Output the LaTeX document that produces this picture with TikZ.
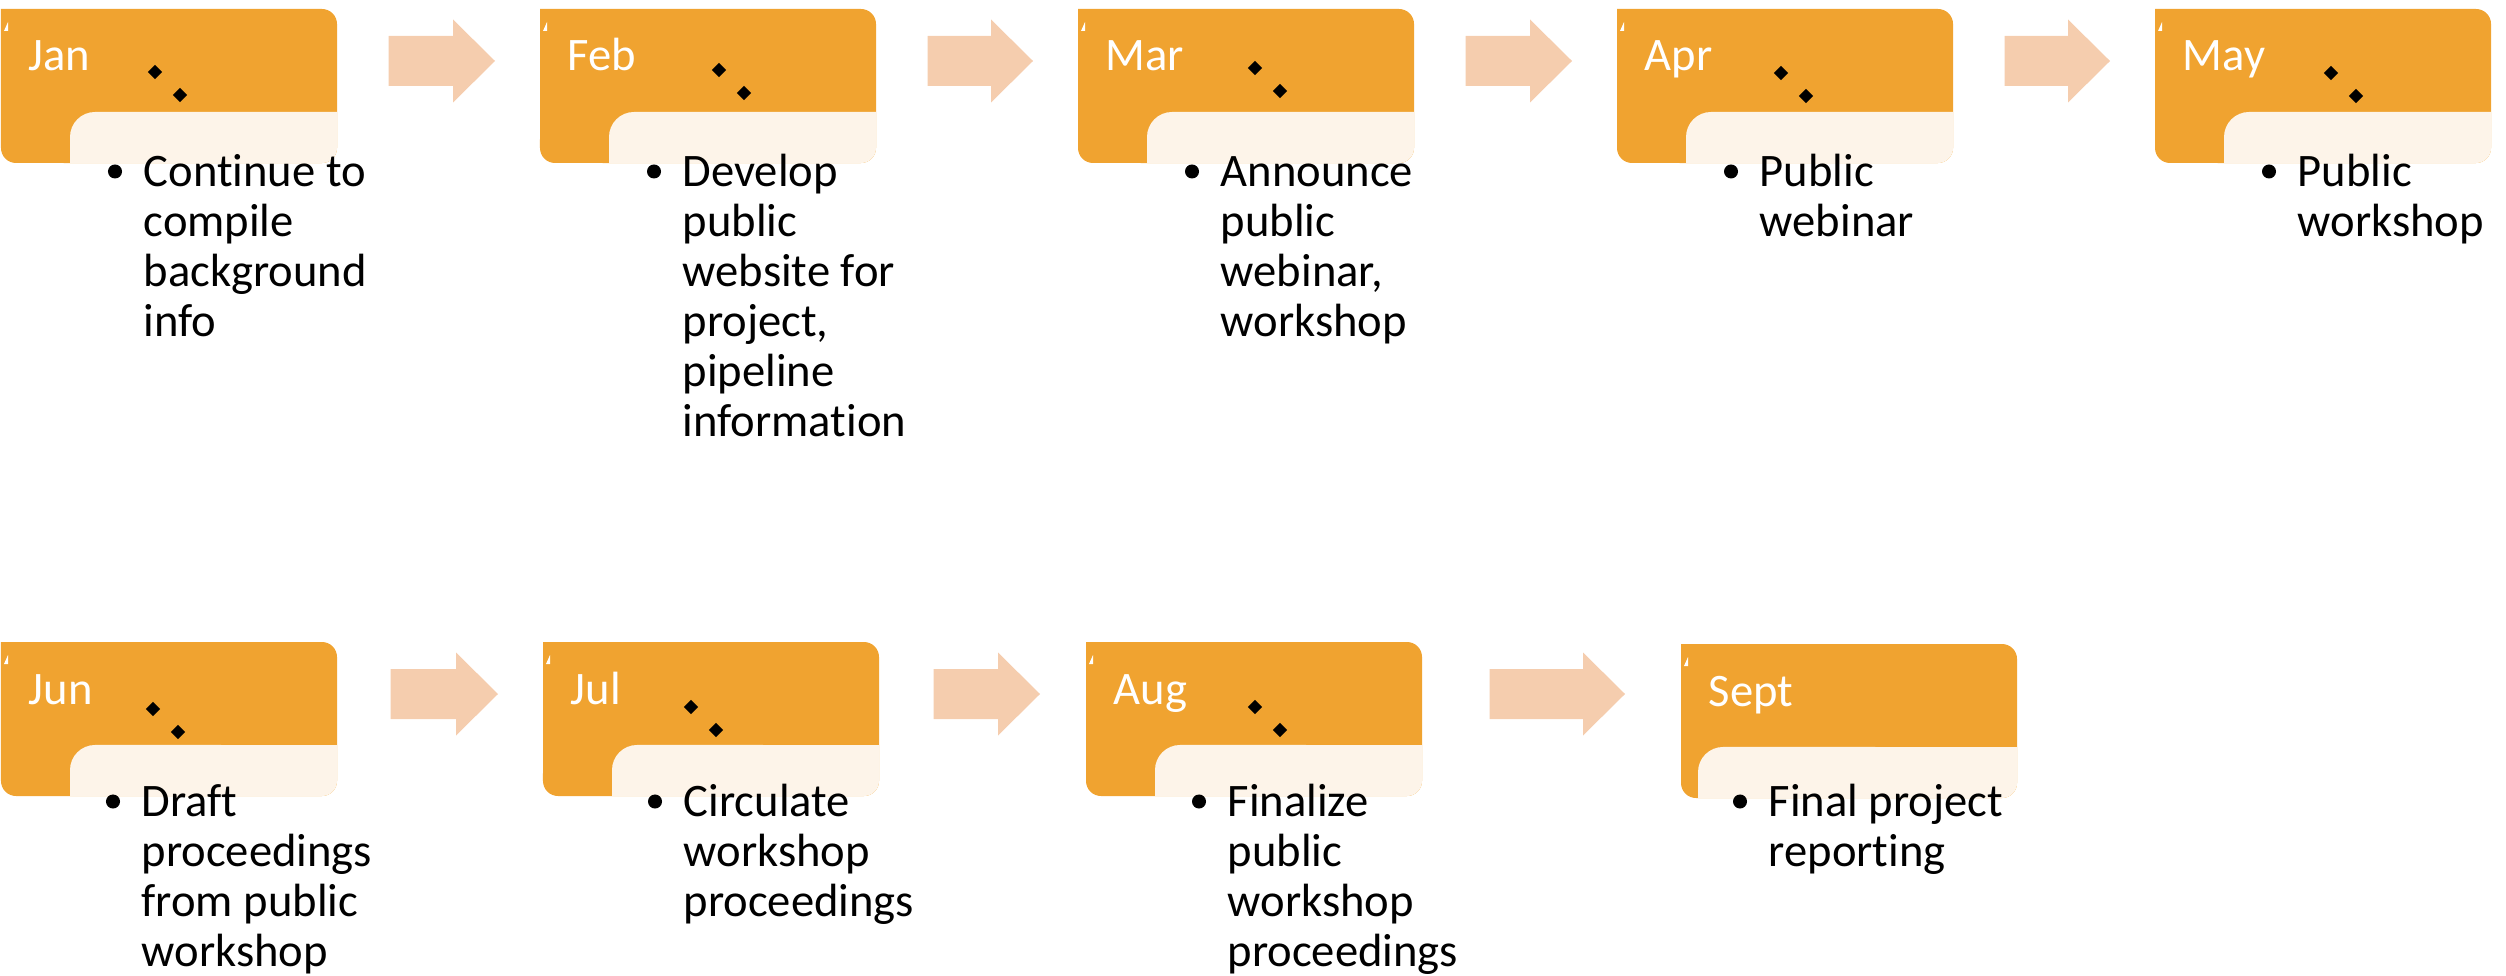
\documentclass[tikz,border=0pt]{standalone}
\usepackage{fontspec}
\setmainfont{Carlito}[Ligatures=NoCommon]
\usetikzlibrary{calc,shapes.geometric}

\definecolor{monthorange}{RGB}{240,163,48}
\definecolor{panelcream}{RGB}{253,244,233}
\definecolor{arrowpeach}{RGB}{245,205,174}

\tikzset{
  monthbox/.style={rectangle, anchor=north west, inner sep=0pt,
    minimum width=3.36cm, minimum height=1.54cm},
  monthlabel/.style={anchor=base west, inner sep=0pt, text=white,
    font=\fontsize{13.25pt}{14.2pt}\selectfont},
  itemtext/.style={anchor=base west, inner sep=0pt, text width=3.4cm,
    align=flush left, font=\fontsize{13.25pt}{14.2pt}\selectfont},
  marker/.style={diamond, fill=black, inner sep=0pt, minimum size=0.15cm},
}

% card: name, left, top, month, panel offset
\newcommand{\monthcard}[5]{%
  \node[monthbox] (#1) at (#2,#3) {};
  \fill[monthorange] (#2,#3) -- (#2+321,#3) arc[start angle=90,end angle=0,radius=0.15cm]
    -- (#2+336,#3-139) arc[start angle=0,end angle=-90,radius=0.15cm]
    -- (#2+15,#3-154) arc[start angle=270,end angle=180,radius=0.15cm] -- cycle;
  \fill[panelcream] (#2+#5,#3-154) -- (#2+#5,#3-128) arc[start angle=180,end angle=90,radius=0.25cm]
    -- (#2+336,#3-103) -- (#2+336,#3-139) arc[start angle=0,end angle=-90,radius=0.15cm] -- cycle;
  \fill[white] (#2+3,#3-22) -- (#2+7,#3-22) -- (#2+7,#3-13) -- cycle;
  \node[monthlabel] (#1label) at ($(#1.north west)+(27,-62)$) {#4};
}

% two little diamonds: card, dx, dy
\newcommand{\markerpair}[3]{%
  \node[marker] (#1ma) at ($(#1.north west)+(#2,-#3)$) {};
  \node[marker] (#1mb) at ($(#1.north west)+(#2+25,-#3-23)$) {};
}

% bullet text: name, position, text
\newcommand{\bulletitem}[3]{%
  \node[itemtext] (#1) at #2 {#3};
  \fill ($(#1.base west)+(-28,15)$) circle (0.07cm);
}

% block arrow: from, to, start gap, end gap
\newcommand{\steparrow}[4]{%
  \coordinate (s) at ($(#1.north east)+(#3,-52)$);
  \path (#2.west) ++(-#4,0) coordinate (t0);
  \coordinate (t) at (s -| t0);
  \fill[arrowpeach] ($(s)+(0,25)$) -- ($(t)+(-42,25)$) -- ($(t)+(-42,41.5)$) -- (t)
    -- ($(t)+(-42,-41.5)$) -- ($(t)+(-42,-25)$) -- ($(s)+(0,-25)$) -- cycle;
}

\begin{document}
\begin{tikzpicture}[x=0.01cm, y=0.01cm]
\useasboundingbox (0,0) rectangle (2506,-976);

%top row
\monthcard{jan}{1}{-9}{Jan}{69}
\monthcard{feb}{540}{-9}{Feb}{69}
\monthcard{mar}{1078}{-9}{Mar}{69}
\monthcard{apr}{1617}{-9}{Apr}{69}
\monthcard{may}{2155}{-9}{May}{69}

\markerpair{jan}{154}{63}
\markerpair{feb}{179}{61}
\markerpair{mar}{177}{59}
\markerpair{apr}{164}{64}
\markerpair{may}{176}{64}

\bulletitem{jantext}{($(jan.south west)+(142,-22)$)}{Continue to\\compile\\background\\info}
\bulletitem{febtext}{($(feb.south west)+(142,-22)$)}{Develop\\public\\website for\\project,\\pipeline\\information}
\bulletitem{martext}{($(mar.south west)+(142,-22)$)}{Announce\\public\\webinar,\\workshop}
\bulletitem{aprtext}{($(apr.south west)+(142,-22)$)}{Public\\webinar}
\bulletitem{maytext}{($(may.south west)+(142,-22)$)}{Public\\workshop}

\steparrow{jan}{feb}{50}{45}
\steparrow{feb}{mar}{50}{45}
\steparrow{mar}{apr}{50}{45}
\steparrow{apr}{may}{50}{45}

%bottom row
\monthcard{jun}{1}{-642}{Jun}{69}
\monthcard{jul}{543}{-642}{Jul}{69}
\monthcard{aug}{1086}{-642}{Aug}{69}
\monthcard{sept}{1681}{-644}{Sept}{17}

\markerpair{jun}{152}{67}
\markerpair{jul}{148}{65}
\markerpair{aug}{169}{65}

\bulletitem{juntext}{($(jun.south west)+(140,-19)$)}{Draft\\proceedings\\from public\\workshop}
\bulletitem{jultext}{($(jul.south west)+(140,-19)$)}{Circulate\\workshop\\proceedings}
\bulletitem{augtext}{($(aug.south west)+(141,-19)$)}{Finalize\\public\\workshop\\proceedings}
\bulletitem{septtext}{($(sept.south west)+(87,-17)$)}{Final project\\reporting}

\steparrow{jun}{jul}{52}{45}
\steparrow{jul}{aug}{53}{46}
\steparrow{aug}{sept}{66}{56}

\end{tikzpicture}
\end{document}
